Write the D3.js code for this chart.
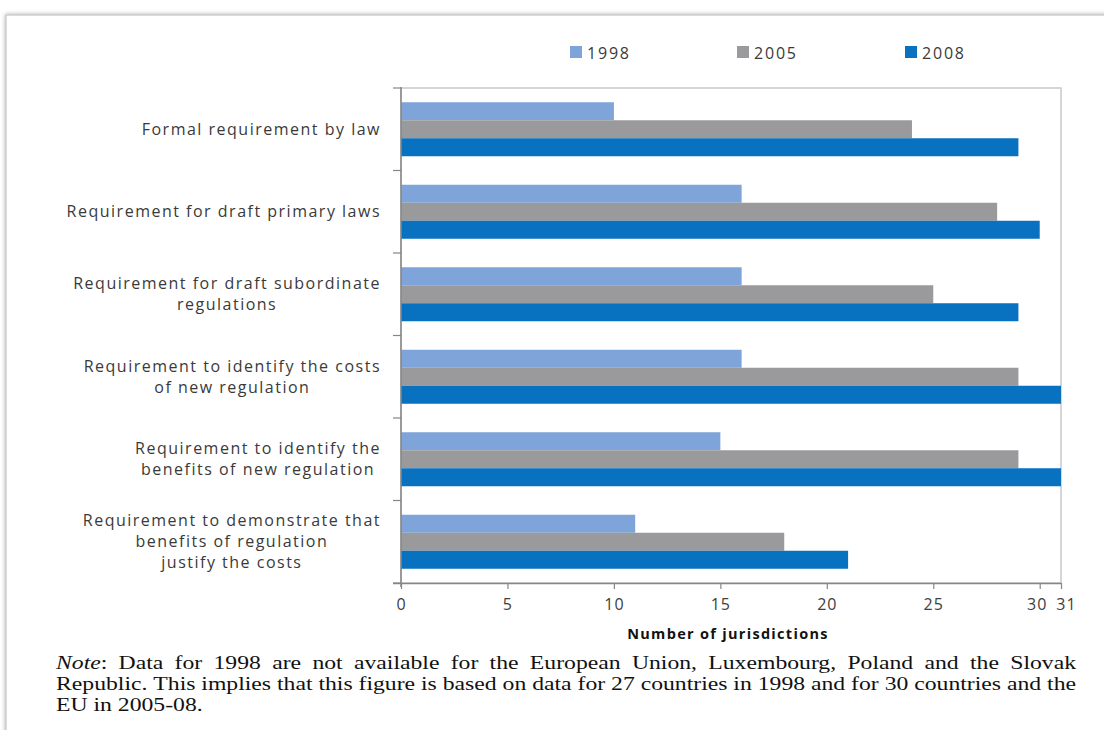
<!DOCTYPE html>
<html><head><meta charset="utf-8">
<script src="https://cdn.jsdelivr.net/npm/d3@7"></script>
<style>body{margin:0;background:#fff;} svg{display:block;}</style>
</head><body>
<script>
const categories = [
  ["Formal requirement by law"],
  ["Requirement for draft primary laws"],
  ["Requirement for draft subordinate", "regulations"],
  ["Requirement to identify the costs", "of new regulation"],
  ["Requirement to identify the", "benefits of new regulation"],
  ["Requirement to demonstrate that", "benefits of regulation", "justify the costs"]
];
const seriesNames = ["1998", "2005", "2008"];
const values1998 = [10, 16, 16, 16, 15, 11];
const values2005 = [24, 28, 25, 29, 29, 18];
const values2008 = [29, 30, 29, 31, 31, 21];
const xTicks = [0, 5, 10, 15, 20, 25, 30, 31];
const colors = ["#7ea4da", "#9a9a9c", "#0872c0"];
const axisTitle = "Number of jurisdictions";
const noteLines = [
  ["Note", ": Data for 1998 are not available for the European Union, Luxembourg, Poland and the Slovak"],
  ["", "Republic. This implies that this figure is based on data for 27 countries in 1998 and for 30 countries and the"],
  ["", "EU in 2005-08."]
];

const W = 1104, H = 730;
const svg = d3.select("body").append("svg").attr("width", W).attr("height", H);

// outer frame with shadow
const defs = svg.append("defs");
const f = defs.append("filter").attr("id", "sh").attr("x", "-5%").attr("y", "-5%").attr("width", "110%").attr("height", "110%");
f.append("feGaussianBlur").attr("in", "SourceAlpha").attr("stdDeviation", 2).attr("result", "b");
f.append("feFlood").attr("flood-color", "#000").attr("flood-opacity", 0.35);
f.append("feComposite").attr("in2", "b").attr("operator", "in");
const fm = f.append("feMerge");
fm.append("feMergeNode");
fm.append("feMergeNode").attr("in", "SourceGraphic");
svg.append("rect").attr("x", 6).attr("y", 15).attr("width", W + 20).attr("height", H + 20)
  .attr("fill", "#fff").attr("stroke", "#c4c4c4").attr("stroke-width", 1.2).attr("filter", "url(#sh)");

const L = 401, R = 1061, T = 88, B = 583;
const x = d3.scaleLinear().domain([0, 31]).range([L, R]);
const y = d3.scaleBand().domain(d3.range(categories.length)).range([T, B]);
const inner = d3.scaleBand().domain(seriesNames).range([14.25, y.bandwidth() - 14.25]);

// plot border
svg.append("rect").attr("x", L).attr("y", T).attr("width", R - L).attr("height", B - T)
  .attr("fill", "none").attr("stroke", "#c9c9c9").attr("stroke-width", 1.5);

const series = [values1998, values2005, values2008];
series.forEach((vals, si) => {
  svg.append("g").selectAll("rect").data(vals).join("rect")
    .attr("x", x(0))
    .attr("y", (d, i) => y(i) + inner(seriesNames[si]))
    .attr("width", d => x(d) - x(0))
    .attr("height", inner.bandwidth())
    .attr("fill", colors[si]);
});

const labelFont = "Open Sans, sans-serif";

// x axis
const xAxis = d3.axisBottom(x).tickValues(xTicks).tickSize(6).tickPadding(10).tickFormat(d3.format("d"));
const gx = svg.append("g").attr("transform", `translate(0,${B})`).call(xAxis);
gx.select(".domain").attr("stroke", "#868686").attr("stroke-width", 1.5).attr("d", `M${L - 8},0.5H${R}`);
gx.selectAll(".tick line").attr("stroke", "#868686").attr("stroke-width", 1.2);
gx.selectAll(".tick text").attr("font-family", labelFont).attr("font-size", 16).attr("letter-spacing", 1).attr("fill", "#404040");
gx.selectAll(".tick").filter(d => d === 30).select("text").attr("dx", -3);
gx.selectAll(".tick").filter(d => d === 31).select("text").attr("dx", 5);

// y axis line with ticks at band boundaries
const yTickVals = d3.range(categories.length + 1).map(i => T + i * y.step());
const gy = svg.append("g");
gy.append("line").attr("x1", L).attr("x2", L).attr("y1", T - 1).attr("y2", B + 4)
  .attr("stroke", "#868686").attr("stroke-width", 1.5);
gy.selectAll("line.t").data(yTickVals).join("line").attr("class", "t")
  .attr("x1", L - 8).attr("x2", L).attr("y1", d => d).attr("y2", d => d)
  .attr("stroke", "#868686").attr("stroke-width", 1.2);

// category labels
const lh = 21;
categories.forEach((lines, i) => {
  const g = svg.append("g");
  const cy = y(i) + y.bandwidth() / 2;
  const t = g.selectAll("text").data(lines).join("text")
    .attr("font-family", labelFont).attr("font-size", 16).attr("fill", "#3a3a3a")
    .attr("letter-spacing", 1.5)
    .attr("text-anchor", "middle")
    .attr("y", (d, k) => cy + (k - (lines.length - 1) / 2) * lh + 5.5)
    .text(d => d);
  let maxW = 0;
  t.each(function () { maxW = Math.max(maxW, this.getComputedTextLength()); });
  t.attr("x", 381 - maxW / 2);
});

// legend
const legX = [570, 737, 905];
seriesNames.forEach((s, i) => {
  svg.append("rect").attr("x", legX[i]).attr("y", 46).attr("width", 12).attr("height", 12).attr("fill", colors[i]);
  svg.append("text").attr("x", legX[i] + 17).attr("y", 58.5).attr("font-family", labelFont)
    .attr("font-size", 16).attr("fill", "#3a3a3a").attr("letter-spacing", 1.8).text(s);
});

// axis title
svg.append("text").attr("x", 728).attr("y", 639).attr("text-anchor", "middle")
  .attr("font-family", labelFont).attr("font-size", 14.5).attr("font-weight", "bold").attr("fill", "#111")
  .attr("letter-spacing", 1.3)
  .text(axisTitle);

// note: word-by-word, justified first two lines
const noteFont = "Liberation Serif, Times New Roman, serif";
const nL = 56, nR = 1076, nY = [669, 690, 711], nFs = 18.5;
function buildWords(ln, li) {
  const [ital, rest] = ln;
  const words = rest.trim().split(" ");
  return words.map((w, k) => {
    const te = svg.append("text").attr("y", nY[li]).attr("font-family", noteFont)
      .attr("font-size", nFs).attr("fill", "#111");
    if (k === 0 && ital) te.append("tspan").attr("font-style", "italic").text(ital);
    te.append("tspan").text(w);
    return te;
  });
}
const lineEls = noteLines.map((ln, li) => buildWords(ln, li));
const nat = lineEls.map(els => els.map(e => e.node().getComputedTextLength()));
const spaceW = (() => {
  const t = svg.append("text").attr("font-family", noteFont).attr("font-size", nFs).text("a a");
  const t2 = svg.append("text").attr("font-family", noteFont).attr("font-size", nFs).text("aa");
  const s = t.node().getComputedTextLength() - t2.node().getComputedTextLength();
  t.remove(); t2.remove();
  return s;
})();
// horizontal glyph scale so that line 2 is tight at normal spacing
const g2 = (nR - nL) / (d3.sum(nat[1]) + spaceW * (nat[1].length - 1));
lineEls.forEach((els, li) => {
  const widths = nat[li].map(w => w * g2);
  const justify = li < lineEls.length - 1;
  const gap = justify ? (nR - nL - d3.sum(widths)) / (els.length - 1) : spaceW * g2;
  let cx = nL;
  els.forEach((e, k) => {
    e.attr("x", cx).attr("textLength", widths[k]).attr("lengthAdjust", "spacingAndGlyphs");
    cx += widths[k] + gap;
  });
});
</script>
</body></html>
